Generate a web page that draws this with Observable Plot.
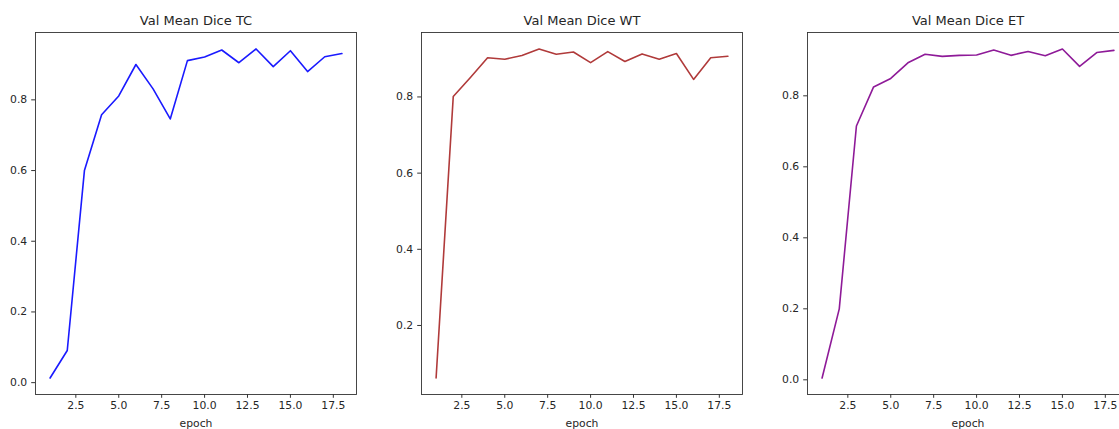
<!DOCTYPE html>
<html>
<head>
<meta charset="utf-8">
<script src="https://cdn.jsdelivr.net/npm/d3@7"></script>
<script src="https://cdn.jsdelivr.net/npm/@observablehq/plot@0.6"></script>
<style>
  html, body { margin: 0; padding: 0; background: #fff; }
  #wrap { position: relative; width: 1119px; height: 429px; overflow: hidden; background: #fff; }
  .panel { position: absolute; top: 0; }
  .panel svg { display: block; max-width: none !important; }
</style>
</head>
<body>
<div id="wrap"></div>
<script>
const epochs = [1,2,3,4,5,6,7,8,9,10,11,12,13,14,15,16,17,18];
const tcValues = [0.013,0.091,0.600,0.758,0.811,0.900,0.831,0.746,0.911,0.921,0.941,0.905,0.944,0.894,0.939,0.880,0.922,0.931];
const wtValues = [0.062,0.801,0.851,0.903,0.899,0.909,0.926,0.912,0.918,0.890,0.919,0.893,0.913,0.899,0.914,0.846,0.903,0.907];
const etValues = [0.005,0.200,0.715,0.825,0.849,0.893,0.917,0.911,0.914,0.915,0.929,0.914,0.925,0.913,0.932,0.883,0.922,0.928];
const xTicks = [2.5,5.0,7.5,10.0,12.5,15.0,17.5];
const tcYTicks = [0.0,0.2,0.4,0.6,0.8];
const wtYTicks = [0.2,0.4,0.6,0.8];
const etYTicks = [0.0,0.2,0.4,0.6,0.8];
const titles = ["Val Mean Dice TC","Val Mean Dice WT","Val Mean Dice ET"];
const colors = ["#1a1aff","#b03a3a","#8e1a98"];
const xLabel = "epoch";

const panels = [
  {title: titles[0], values: tcValues, yTicks: tcYTicks, color: colors[0], left: 0,   width: 373, mL: 35,  mR: 17},
  {title: titles[1], values: wtValues, yTicks: wtYTicks, color: colors[1], left: 373, width: 373, mL: 48,  mR: 4},
  {title: titles[2], values: etValues, yTicks: etYTicks, color: colors[2], left: 746, width: 400, mL: 61,  mR: 18}
];

const wrap = document.getElementById("wrap");
const fmt = d3.format(".1f");

for (const p of panels) {
  const data = epochs.map((e, i) => ({epoch: e, v: p.values[i]}));
  const xMin = d3.min(epochs), xMax = d3.max(epochs);
  const xPad = (xMax - xMin) * 0.05;
  const yMin = d3.min(p.values), yMax = d3.max(p.values);
  const yPad = (yMax - yMin) * 0.05;
  const chart = Plot.plot({
    width: p.width,
    height: 429,
    marginLeft: p.mL,
    marginRight: p.mR,
    marginTop: 32,
    marginBottom: 35,
    style: {fontFamily: "'DejaVu Sans', sans-serif", fontSize: "10.8px", color: "#262626", background: "transparent", maxWidth: "none"},
    x: {domain: [xMin - xPad, xMax + xPad]},
    y: {domain: [yMin - yPad, yMax + yPad]},
    marks: [
      Plot.axisX({ticks: xTicks, tickFormat: fmt, tickSize: 3.8, tickPadding: 3, label: null, stroke: "#333", fontSize: 10.8}),
      Plot.axisY({ticks: p.yTicks, tickFormat: fmt, tickSize: 3.8, tickPadding: 4.5, label: null, stroke: "#333", fontSize: 10.8}),
      Plot.line(data, {x: "epoch", y: "v", stroke: p.color, strokeWidth: 1.6}),
      Plot.frame({stroke: "#333", strokeWidth: 0.9}),
      Plot.text([p.title], {frameAnchor: "top", dy: -12, fontSize: 13, fill: "#262626", lineAnchor: "middle"}),
      Plot.text([xLabel], {frameAnchor: "bottom", dy: 29, fontSize: 10.8, fill: "#262626", lineAnchor: "middle"})
    ]
  });
  const div = document.createElement("div");
  div.className = "panel";
  div.style.left = p.left + "px";
  div.style.width = p.width + "px";
  div.appendChild(chart);
  wrap.appendChild(div);
}
</script>
</body>
</html>
